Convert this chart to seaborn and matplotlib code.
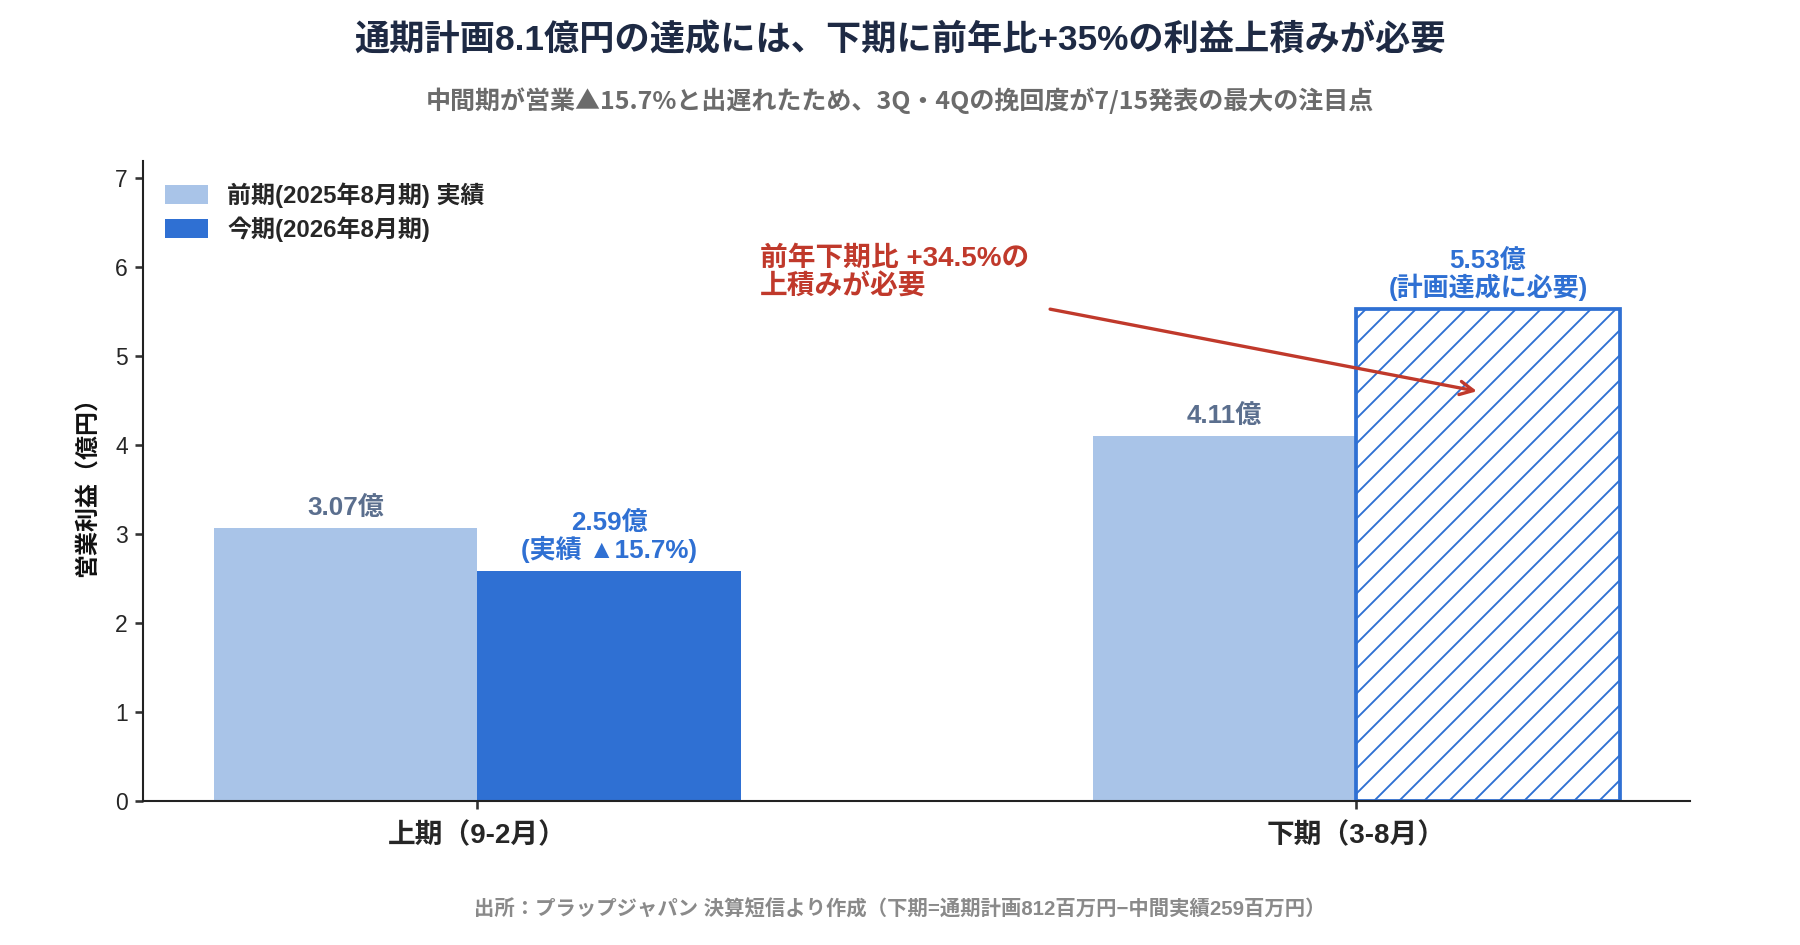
import numpy as np
import matplotlib.pyplot as plt
import seaborn as sns
import pandas as pd

# chart data
periods = ['上期（9-2月）', '下期（3-8月）']
series_names = ['前期(2025年8月期) 実績', '今期(2026年8月期)']
prev_values = [3.07, 4.11]
curr_values = [2.59, 5.53]
prev_labels = ['3.07億', '4.11億']
curr_labels = ['2.59億\n(実績 ▲15.7%)', '5.53億\n(計画達成に必要)']

df = pd.DataFrame({
    'period': periods * 2,
    'series': [series_names[0]] * 2 + [series_names[1]] * 2,
    'value': prev_values + curr_values,
})

sns.set_theme(style='white')
plt.rcParams['font.family'] = ['Liberation Sans', 'Noto Sans CJK JP']
plt.rcParams['hatch.color'] = '#2F70D3'
plt.rcParams['hatch.linewidth'] = 0.9

light = '#A9C4E8'
dark = '#2F70D3'
navy = '#1E2A44'
red = '#C0392B'

fig = plt.figure(figsize=(12, 6.3), dpi=150)
ax = fig.add_axes([0.0797, 0.152, 0.8593, 0.678])

sns.barplot(data=df, x='period', y='value', hue='series', palette=[light, dark],
            width=0.6, ax=ax, saturation=1, legend=True, linewidth=0)

# hatched "required" bar for H2 current year
for p in ax.patches:
    if p.get_height() == curr_values[1]:
        p.set_facecolor('white')
        p.set_edgecolor(dark)
        p.set_hatch('//')
        p.set_linewidth(1.8)

# value labels
for i in range(len(periods)):
    ax.text(i - 0.15, prev_values[i] + 0.09, prev_labels[i], ha='center', va='bottom',
            fontsize=12.5, fontweight='bold', color='#5B6F8E')
    ax.text(i + 0.15, curr_values[i] + 0.09, curr_labels[i], ha='center', va='bottom',
            fontsize=12.5, fontweight='bold', color=dark, linespacing=1.05)

# annotation
ax.annotate('', xy=(1.142, 4.60), xytext=(0.647, 5.54),
            arrowprops=dict(arrowstyle='->', color=red, lw=1.6, mutation_scale=16))
ax.text(0.321, 6.24, '前年下期比 +34.5%の\n上積みが必要', ha='left', va='top',
        fontsize=13.3, fontweight='bold', color=red, linespacing=1.1)

ax.set_xlim(-0.38, 1.38)
ax.set_ylim(0, 7.2)
ax.set_yticks(range(0, 8))
ax.set_xlabel('')
ax.set_ylabel('営業利益（億円）', fontsize=11.5, fontweight='bold', color='#111111', labelpad=8)
ax.tick_params(axis='y', labelsize=11, left=True, length=4, color='#333333')
ax.tick_params(axis='x', labelsize=13.3, bottom=True, length=4, color='#333333', pad=6)
for lab in ax.get_xticklabels():
    lab.set_fontweight('bold')
sns.despine(ax=ax)
for s in ['left', 'bottom']:
    ax.spines[s].set_color('#222222')
    ax.spines[s].set_linewidth(1.0)

ax.legend(loc='upper left', frameon=False, handlelength=1.8, handletextpad=0.8,
          handleheight=0.9, borderaxespad=0.5, labelspacing=0.35,
          prop={'weight': 'bold', 'size': 11.5})

fig.text(0.5, 0.957, '通期計画8.1億円の達成には、下期に前年比+35%の利益上積みが必要',
         ha='center', va='center', fontsize=16.9, fontweight='bold', color=navy)
fig.text(0.5, 0.893, '中間期が営業▲15.7%と出遅れたため、3Q・4Qの挽回度が7/15発表の最大の注目点',
         ha='center', va='center', fontsize=12, fontweight='bold', color='#6B6B6B',
         family=['Noto Sans CJK JP', 'DejaVu Sans'])
fig.text(0.5, 0.038, '出所：プラップジャパン 決算短信より作成（下期=通期計画812百万円−中間実績259百万円）',
         ha='center', va='center', fontsize=9.75, fontweight='bold', color='#8A8A8A')

fig.savefig('out.png', dpi=150)
